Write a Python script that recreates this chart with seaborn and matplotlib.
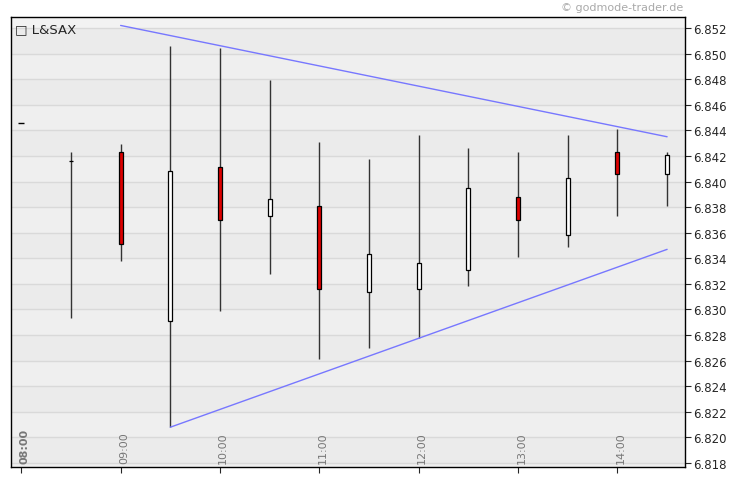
import matplotlib
matplotlib.use("Agg")
import matplotlib.pyplot as plt
import seaborn as sns
import pandas as pd
import numpy as np

times = ["08:30","09:00","09:30","10:00","10:30","11:00","11:30","12:00","12:30","13:00","13:30","14:00","14:30"]
opens  = [6.8416,6.8423,6.8291,6.8411,6.8373,6.8381,6.8314,6.8316,6.8331,6.8388,6.8358,6.8423,6.8406]
highs  = [6.8423,6.8429,6.8506,6.8504,6.8479,6.8431,6.8418,6.8436,6.8426,6.8423,6.8436,6.8441,6.8423]
lows   = [6.8293,6.8338,6.8208,6.8299,6.8328,6.8261,6.8270,6.8278,6.8318,6.8341,6.8349,6.8373,6.8381]
closes = [6.8416,6.8351,6.8408,6.8370,6.8386,6.8316,6.8343,6.8336,6.8395,6.8370,6.8403,6.8406,6.8421]
upper_t = ["09:00","14:30"]; upper_v = [6.8522,6.8435]
lower_t = ["09:30","14:30"]; lower_v = [6.8208,6.8347]
xtick_labels = ["08:00","09:00","10:00","11:00","12:00","13:00","14:00"]

def mins(t):
    h, m = t.split(":")
    return (int(h)-8)*60 + int(m)

sns.set_style("white")
plt.rcParams['font.family'] = ['DejaVu Sans']
fig = plt.figure(figsize=(7.3, 4.81), dpi=100)
ax = fig.add_axes([11/730, 13/481, 674/730, 450/481])
ylo, yhi = 6.81769, 6.85286
ax.set_xlim(-6.2, 400.8); ax.set_ylim(ylo, yhi)

ax.set_facecolor("#efefef")
levels = np.round(np.arange(6.818, 6.8521, 0.002), 3)
for i, lv in enumerate(levels[:-1]):
    if i % 2 == 0:
        ax.axhspan(lv, lv+0.002, color="#ebebeb", zorder=0, lw=0)
ax.axhspan(6.852, yhi, color="#f2f2f2", zorder=0, lw=0)
for lv in levels:
    ax.axhline(lv, color="#d9d9d9", lw=1, zorder=1)

df = pd.DataFrame({"x": [mins(t) for t in times], "o": opens, "h": highs, "l": lows, "c": closes})
ax.vlines(df.x, df.l, df.h, color="#333333", lw=1, zorder=3)
up = df.c >= df.o
colors = ["white" if u else "#dd0000" for u in up]
bot = np.minimum(df.o, df.c); ht = np.abs(df.c - df.o)
ax.bar(df.x, ht, bottom=bot, width=2.4, color=colors, edgecolor="black", lw=0.9, zorder=4)

ud = pd.DataFrame({"x": [mins(t) for t in upper_t], "y": upper_v})
ld = pd.DataFrame({"x": [mins(t) for t in lower_t], "y": lower_v})
sns.lineplot(data=ud, x="x", y="y", ax=ax, color="#7777ff", lw=1, zorder=5)
sns.lineplot(data=ld, x="x", y="y", ax=ax, color="#7777ff", lw=1, zorder=5)
ax.plot([0], [6.8446], marker="_", color="black", ms=4)

ax.yaxis.tick_right()
ax.set_yticks(levels)
ax.set_yticklabels([f"{v:.3f}" for v in levels], fontsize=8.5)
ax.tick_params(axis="y", direction="out", length=4, pad=2, right=True, left=False)
xt = [mins(t) for t in xtick_labels]
ax.set_xticks(xt); ax.set_xticklabels([])
ax.tick_params(axis="x", direction="out", length=4, bottom=True)
for t, x in zip(xtick_labels, xt):
    ax.text(x+2, ylo+0.00035, t, rotation=90, fontsize=8, color="#777777", ha="center", va="bottom",
            fontweight="bold" if t == "08:00" else "normal", zorder=6)
ax.set_xlabel(""); ax.set_ylabel("")
for s in ax.spines.values():
    s.set_color("black"); s.set_linewidth(1)

ax.text(0.006, 0.988, "\u25a1 L&SAX", transform=ax.transAxes, fontsize=9.5, va="top", ha="left")
fig.text(683/730, 1-8/481, "\u00a9 godmode-trader.de", fontsize=8, color="#aaaaaa", ha="right", va="center")
fig.savefig("out.png", dpi=100)
